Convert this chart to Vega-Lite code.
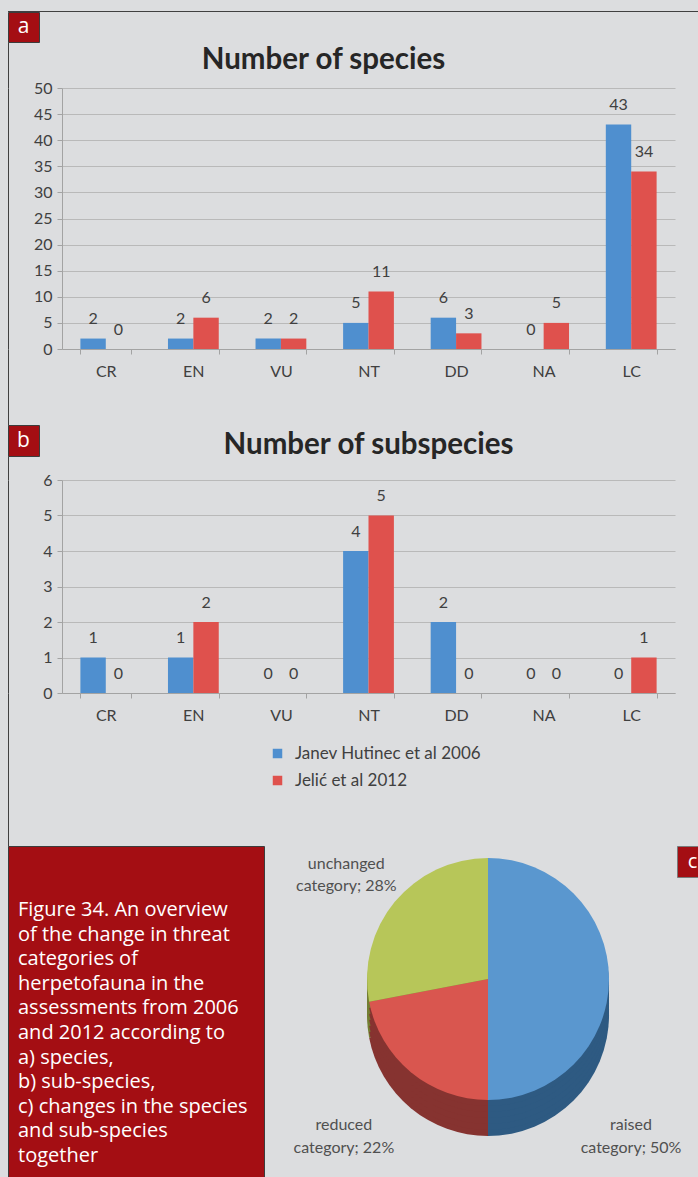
{
  "$schema": "https://vega.github.io/schema/vega-lite/v6.json",
  "padding": {"left": 7, "top": 10, "right": 0, "bottom": 0},
  "autosize": {"type": "pad"},
  "background": "#dcdddf",
  "data": {"values": [{}]},
  "datasets": {
    "species": [
      {"category": "CR", "assessment": "Janev Hutinec et al 2006", "count": 2},
      {"category": "CR", "assessment": "Jelić et al 2012", "count": 0},
      {"category": "EN", "assessment": "Janev Hutinec et al 2006", "count": 2},
      {"category": "EN", "assessment": "Jelić et al 2012", "count": 6},
      {"category": "VU", "assessment": "Janev Hutinec et al 2006", "count": 2},
      {"category": "VU", "assessment": "Jelić et al 2012", "count": 2},
      {"category": "NT", "assessment": "Janev Hutinec et al 2006", "count": 5},
      {"category": "NT", "assessment": "Jelić et al 2012", "count": 11},
      {"category": "DD", "assessment": "Janev Hutinec et al 2006", "count": 6},
      {"category": "DD", "assessment": "Jelić et al 2012", "count": 3},
      {"category": "NA", "assessment": "Janev Hutinec et al 2006", "count": 0},
      {"category": "NA", "assessment": "Jelić et al 2012", "count": 5},
      {"category": "LC", "assessment": "Janev Hutinec et al 2006", "count": 43},
      {"category": "LC", "assessment": "Jelić et al 2012", "count": 34}
    ],
    "subspecies": [
      {"category": "CR", "assessment": "Janev Hutinec et al 2006", "count": 1},
      {"category": "CR", "assessment": "Jelić et al 2012", "count": 0},
      {"category": "EN", "assessment": "Janev Hutinec et al 2006", "count": 1},
      {"category": "EN", "assessment": "Jelić et al 2012", "count": 2},
      {"category": "VU", "assessment": "Janev Hutinec et al 2006", "count": 0},
      {"category": "VU", "assessment": "Jelić et al 2012", "count": 0},
      {"category": "NT", "assessment": "Janev Hutinec et al 2006", "count": 4},
      {"category": "NT", "assessment": "Jelić et al 2012", "count": 5},
      {"category": "DD", "assessment": "Janev Hutinec et al 2006", "count": 2},
      {"category": "DD", "assessment": "Jelić et al 2012", "count": 0},
      {"category": "NA", "assessment": "Janev Hutinec et al 2006", "count": 0},
      {"category": "NA", "assessment": "Jelić et al 2012", "count": 0},
      {"category": "LC", "assessment": "Janev Hutinec et al 2006", "count": 0},
      {"category": "LC", "assessment": "Jelić et al 2012", "count": 1}
    ],
    "change": [
      {"change": "raised", "share": 50, "label": "raised\ncategory; 50%"},
      {"change": "reduced", "share": 22, "label": "reduced\ncategory; 22%"},
      {"change": "unchanged", "share": 28, "label": "unchanged\ncategory; 28%"}
    ]
  },
  "config": {
    "view": {"stroke": null},
    "font": "Lato",
    "axis": {"labelFont": "Lato", "labelFontSize": 16, "labelColor": "#404040", "domainColor": "#a3a3a3", "tickColor": "#a3a3a3", "gridColor": "#b9b9b9"},
    "legend": {"labelFont": "Lato"},
    "text": {"font": "Lato"}
  },
  "resolve": {"scale": {"color": "independent"}, "legend": {"color": "independent"}},
  "bounds": "flush",
  "spacing": 0,
  "vconcat": [
    {"width": 691, "height": 1, "view": {"fill": "#404040"}, "mark": {"type": "text", "text": "", "fontSize": 1}},
    {"width": 31, "height": 30, "view": {"fill": "#a40e13", "stroke": "#3c3c3c", "strokeWidth": 1},
     "mark": {"type": "text", "text": "a", "color": "#ffffff", "fontSize": 21, "font": "Open Sans"}},
    {"width": 691, "height": 46, "view": {"stroke": "#404040", "strokeDash": [0, 1428, 46, 1]},
     "mark": {"type": "text", "text": "", "fontSize": 1}},
    {
      "width": 691,
      "height": 261,
      "view": {"stroke": "#404040", "strokeDash": [0, 1643, 261, 1]},
      "data": {"name": "species"},
      "title": {"text": "Number of species", "fontSize": 29.5, "fontWeight": "bold", "color": "#262626", "anchor": "middle", "dx": -30, "offset": -18, "baseline": "alphabetic"},
      "encoding": {
        "x": {"field": "category", "type": "nominal", "sort": ["CR", "EN", "VU", "NT", "DD", "NA", "LC"],
              "scale": {"range": [54, 667], "paddingInner": 0.42, "paddingOuter": 0.21},
              "axis": {"title": null, "labelAngle": 0, "tickBand": "extent", "tickSize": 5, "labelPadding": 9, "grid": false}},
        "xOffset": {"field": "assessment", "type": "nominal", "sort": ["Janev Hutinec et al 2006", "Jelić et al 2012"]},
        "y": {"field": "count", "type": "quantitative", "scale": {"domain": [0, 50]},
              "axis": {"title": null, "offset": -54, "values": [0, 5, 10, 15, 20, 25, 30, 35, 40, 45, 50], "tickSize": 5, "labelPadding": 5, "grid": true}}
      },
      "layer": [
        {"mark": {"type": "bar"},
         "encoding": {"color": {"field": "assessment", "type": "nominal",
                                "scale": {"domain": ["Janev Hutinec et al 2006", "Jelić et al 2012"], "range": ["#4f8fcf", "#df514d"]},
                                "legend": null}}},
        {"mark": {"type": "text", "dy": -19.5, "fontSize": 16, "color": "#404040"},
         "encoding": {"text": {"field": "count", "type": "quantitative"}}}
      ]
    },
    {"width": 691, "height": 76, "view": {"stroke": "#404040", "strokeDash": [0, 1458, 76, 1]},
     "mark": {"type": "text", "text": "", "fontSize": 1}},
    {"width": 31, "height": 31, "view": {"fill": "#a40e13", "stroke": "#3c3c3c", "strokeWidth": 1},
     "mark": {"type": "text", "text": "b", "color": "#ffffff", "fontSize": 21, "font": "Open Sans"}},
    {"width": 691, "height": 24, "view": {"stroke": "#404040", "strokeDash": [0, 1406, 24, 1]},
     "mark": {"type": "text", "text": "", "fontSize": 1}},
    {
      "width": 691,
      "height": 213,
      "view": {"stroke": "#404040", "strokeDash": [0, 1595, 213, 1]},
      "data": {"name": "subspecies"},
      "title": {"text": "Number of subspecies", "fontSize": 29.5, "fontWeight": "bold", "color": "#262626", "anchor": "middle", "dx": 15, "offset": -11, "baseline": "alphabetic"},
      "encoding": {
        "x": {"field": "category", "type": "nominal", "sort": ["CR", "EN", "VU", "NT", "DD", "NA", "LC"],
              "scale": {"range": [54, 667], "paddingInner": 0.42, "paddingOuter": 0.21},
              "axis": {"title": null, "labelAngle": 0, "tickBand": "extent", "tickSize": 5, "labelPadding": 9, "grid": false}},
        "xOffset": {"field": "assessment", "type": "nominal", "sort": ["Janev Hutinec et al 2006", "Jelić et al 2012"]},
        "y": {"field": "count", "type": "quantitative", "scale": {"domain": [0, 6]},
              "axis": {"title": null, "offset": -54, "values": [0, 1, 2, 3, 4, 5, 6], "tickSize": 5, "labelPadding": 5, "grid": true}}
      },
      "layer": [
        {"mark": {"type": "bar"},
         "encoding": {"color": {"field": "assessment", "type": "nominal",
                                "scale": {"domain": ["Janev Hutinec et al 2006", "Jelić et al 2012"], "range": ["#4f8fcf", "#df514d"]},
                                "legend": {"orient": "none", "legendX": 261, "legendY": 265, "title": null, "padding": 0,
                                           "symbolType": "square", "symbolSize": 90, "symbolStrokeWidth": 0,
                                           "labelFontSize": 17, "labelLimit": 400, "labelColor": "#404040", "rowPadding": 9, "labelOffset": 9}}}},
        {"mark": {"type": "text", "dy": -19.5, "fontSize": 16, "color": "#404040"},
         "encoding": {"text": {"field": "count", "type": "quantitative"}}}
      ]
    },
    {"width": 691, "height": 153, "view": {"stroke": "#404040", "strokeDash": [0, 1535, 153, 1]},
     "mark": {"type": "text", "text": "", "fontSize": 1}},
    {
      "bounds": "flush",
      "spacing": 0,
      "hconcat": [
        {
          "width": 256,
          "height": 332,
          "view": {"fill": "#a40e13", "stroke": "#3c3c3c", "strokeWidth": 1},
          "title": {
            "text": ["Figure 34. An overview", "of the change in threat", "categories of", "herpetofauna in the", "assessments from 2006", "and 2012 according to", "a) species,", "b) sub-species,", "c) changes in the species", "and sub-species", "together"],
            "orient": "top", "anchor": "start", "frame": "group", "offset": -320, "dx": 10,
            "font": "Open Sans", "fontSize": 20, "fontWeight": "normal", "color": "#ffffff", "lineHeight": 24.6, "baseline": "top"
          },
          "mark": {"type": "text", "text": "", "fontSize": 1}
        },
        {"width": 35, "height": 332, "mark": {"type": "text", "text": "", "fontSize": 1}},
        {
          "width": 378,
          "height": 266,
          "data": {"name": "change"},
          "encoding": {
            "theta": {"field": "share", "type": "quantitative", "stack": true},
            "order": {"field": "change", "type": "nominal", "sort": "ascending"}
          },
          "layer": [
            {"mark": {"type": "arc", "radius": 121, "yOffset": 36},
             "encoding": {"color": {"field": "change", "type": "nominal", "scale": {"domain": ["raised", "reduced", "unchanged"], "range": ["#2e5a82", "#863330", "#747f33"]}, "legend": null}}},
            {"mark": {"type": "arc", "radius": 121, "yOffset": 30},
             "encoding": {"color": {"field": "change", "type": "nominal", "scale": {"domain": ["raised", "reduced", "unchanged"], "range": ["#2e5a82", "#863330", "#747f33"]}, "legend": null}}},
            {"mark": {"type": "arc", "radius": 121, "yOffset": 24},
             "encoding": {"color": {"field": "change", "type": "nominal", "scale": {"domain": ["raised", "reduced", "unchanged"], "range": ["#2e5a82", "#863330", "#747f33"]}, "legend": null}}},
            {"mark": {"type": "arc", "radius": 121, "yOffset": 18},
             "encoding": {"color": {"field": "change", "type": "nominal", "scale": {"domain": ["raised", "reduced", "unchanged"], "range": ["#2e5a82", "#863330", "#747f33"]}, "legend": null}}},
            {"mark": {"type": "arc", "radius": 121, "yOffset": 12},
             "encoding": {"color": {"field": "change", "type": "nominal", "scale": {"domain": ["raised", "reduced", "unchanged"], "range": ["#2e5a82", "#863330", "#747f33"]}, "legend": null}}},
            {"mark": {"type": "arc", "radius": 121, "yOffset": 6},
             "encoding": {"color": {"field": "change", "type": "nominal", "scale": {"domain": ["raised", "reduced", "unchanged"], "range": ["#2e5a82", "#863330", "#747f33"]}, "legend": null}}},
            {"mark": {"type": "arc", "radius": 121},
             "encoding": {"color": {"field": "change", "type": "nominal", "scale": {"domain": ["raised", "reduced", "unchanged"], "range": ["#5a97cf", "#d9564f", "#b7c659"]}, "legend": null}}},
            {"mark": {"type": "text", "radius": 180, "dx": -3, "fontSize": 16, "color": "#505050", "lineBreak": "\n", "lineHeight": 22},
             "encoding": {"text": {"condition": {"test": "datum.change === 'unchanged'", "field": "label", "type": "nominal"}, "value": ""}}},
            {"mark": {"type": "text", "radius": 190, "dx": -23, "fontSize": 16, "color": "#505050", "lineBreak": "\n", "lineHeight": 23},
             "encoding": {"text": {"condition": {"test": "datum.change === 'reduced'", "field": "label", "type": "nominal"}, "value": ""}}},
            {"mark": {"type": "text", "radius": 143, "dy": 146, "fontSize": 16, "color": "#505050", "lineBreak": "\n", "lineHeight": 23},
             "encoding": {"text": {"condition": {"test": "datum.change === 'raised'", "field": "label", "type": "nominal"}, "value": ""}}}
          ],
          "resolve": {"scale": {"color": "independent"}}
        },
        {"width": 21, "height": 31, "view": {"fill": "#a40e13", "stroke": "#7a7a7a", "strokeWidth": 1},
         "mark": {"type": "text", "text": "c", "color": "#ffffff", "fontSize": 20, "font": "Open Sans", "dx": 5}}
      ]
    }
  ]
}
